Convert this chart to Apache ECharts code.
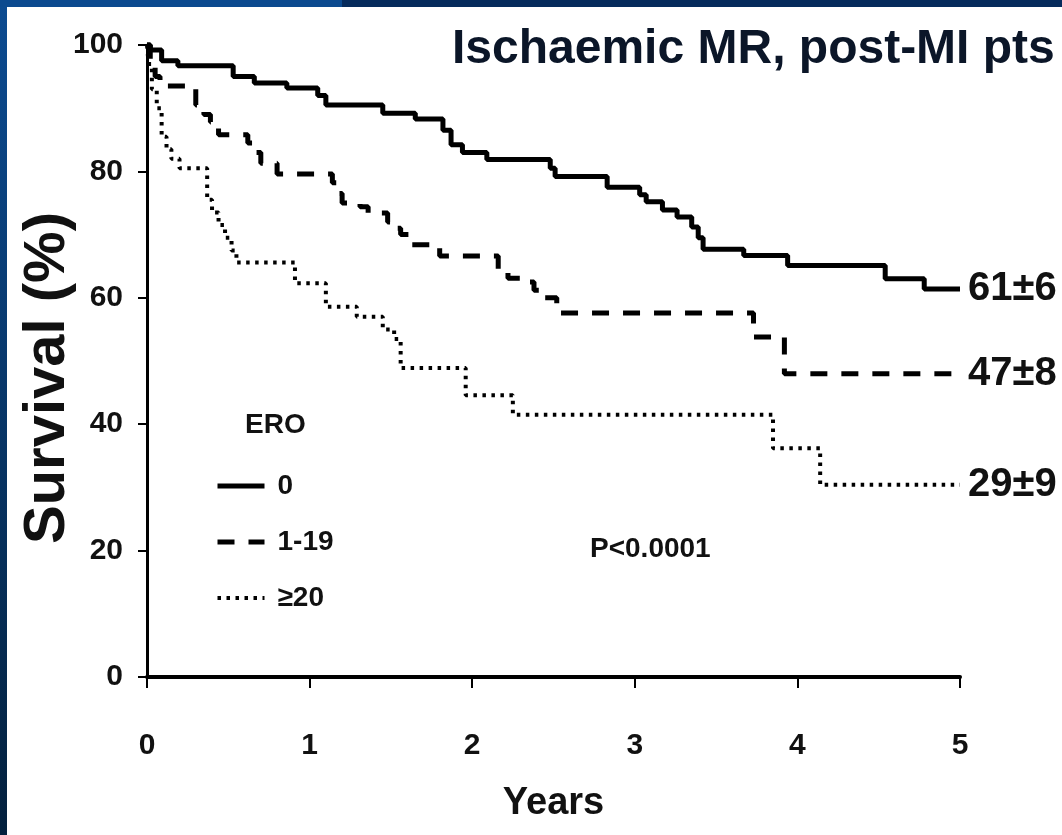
<!DOCTYPE html>
<html>
<head>
<meta charset="utf-8">
<title>Ischaemic MR, post-MI pts</title>
<script src="https://cdn.jsdelivr.net/npm/echarts@6/dist/echarts.min.js"></script>
<style>
  html, body { margin: 0; padding: 0; background: #fff; }
  #chart-container { width: 1062px; height: 835px; }
</style>
</head>
<body>
<div id="chart-container"></div>
<script>
var sans = "'Liberation Sans', Arial, sans-serif";

// ERO groups and the survival text at the end of each curve
var groupNames = ['0', '1-19', '≥20'];
var endLabels = ['61±6', '47±8', '29±9'];

// Kaplan-Meier steps (years, survival %)
var yearsEro0 = [0, 0.02, 0.09, 0.19, 0.53, 0.66, 0.86, 1.05, 1.1, 1.45, 1.65, 1.82, 1.87, 1.94, 2.09, 2.48, 2.51, 2.83, 3.03, 3.07, 3.17, 3.26, 3.35, 3.39, 3.42, 3.67, 3.94, 4.54, 4.78, 5.0];
var survEro0  = [100, 99.2, 97.5, 96.7, 95.0, 94.0, 93.2, 92.0, 90.5, 89.2, 88.3, 86.5, 84.2, 83.0, 81.9, 80.5, 79.2, 77.5, 76.3, 75.2, 73.9, 72.8, 71.2, 69.5, 67.7, 66.7, 65.1, 63.0, 61.4, 61.4];

var yearsEro1 = [0, 0.02, 0.05, 0.08, 0.30, 0.35, 0.39, 0.44, 0.62, 0.66, 0.70, 0.80, 1.14, 1.17, 1.20, 1.31, 1.36, 1.48, 1.52, 1.56, 1.63, 1.80, 2.16, 2.22, 2.34, 2.38, 2.42, 2.52, 3.73, 3.92, 5.0];
var survEro1  = [100, 97, 95, 93.5, 90.5, 89, 87.8, 85.8, 84.5, 83, 81.3, 79.6, 78.2, 76.5, 75.0, 74.4, 73.4, 72, 71, 70, 68.4, 66.6, 64.4, 63.1, 62.5, 61.2, 60.0, 57.6, 53.8, 48.0, 48.0];

var yearsEro20 = [0, 0.01, 0.03, 0.06, 0.09, 0.12, 0.15, 0.20, 0.37, 0.40, 0.44, 0.48, 0.52, 0.55, 0.91, 1.10, 1.29, 1.45, 1.52, 1.56, 1.96, 2.25, 3.85, 4.14, 5.0];
var survEro20  = [100, 97, 93, 90, 85.5, 83.5, 82, 80.5, 75.5, 73.5, 71.5, 69.5, 67.5, 65.6, 62.3, 58.6, 57, 55, 53.5, 48.9, 44.6, 41.5, 36.2, 30.4, 30.4];

// axis ticks
var yearTicks = [0, 1, 2, 3, 4, 5];
var survTicks = [0, 20, 40, 60, 80, 100];

function pairs(xs, ys) {
    return xs.map(function (x, i) { return [x, ys[i]]; });
}

var dom = document.getElementById('chart-container');
var myChart = echarts.init(dom, null, { renderer: 'canvas' });

var lineStyles = [
    { color: '#000', width: 5, type: 'solid' },
    { color: '#000', width: 5, type: [17, 14] },
    { color: '#000', width: 4, type: [3.5, 5.5] }
];
var curves = [pairs(yearsEro0, survEro0), pairs(yearsEro1, survEro1), pairs(yearsEro20, survEro20)];

var seriesList = groupNames.map(function (name, i) {
    return {
        name: name,
        type: 'line',
        step: 'end',
        symbol: 'none',
        clip: false,
        lineStyle: lineStyles[i],
        itemStyle: { color: '#000' },
        endLabel: {
            show: true,
            distance: 8,
            formatter: function () { return endLabels[i]; },
            fontFamily: sans,
            fontWeight: 'bold',
            fontSize: 40,
            color: '#111'
        },
        data: curves[i]
    };
});

option = {
    backgroundColor: '#fff',
    animation: false,
    title: [
        {
            text: 'Ischaemic MR, post-MI pts',
            left: 452,
            top: 26,
            padding: 0,
            textStyle: { fontFamily: sans, fontWeight: 'bold', fontSize: 48, color: '#0b1628' }
        },
        {
            text: 'ERO',
            left: 245,
            top: 411,
            padding: 0,
            textStyle: { fontFamily: sans, fontWeight: 'bold', fontSize: 28, color: '#111' }
        },
        {
            text: 'P<0.0001',
            left: 590,
            top: 535,
            padding: 0,
            textStyle: { fontFamily: sans, fontWeight: 'bold', fontSize: 28, color: '#111' }
        }
    ],
    legend: {
        data: groupNames.map(function (name, i) {
            return { name: name, lineStyle: lineStyles[i] };
        }),
        orient: 'vertical',
        left: 215,
        top: 469,
        padding: 0,
        itemWidth: 47,
        itemHeight: 14,
        itemGap: 22,
        itemStyle: { opacity: 0 },
        textStyle: { fontFamily: sans, fontWeight: 'bold', fontSize: 28, lineHeight: 34, color: '#111', padding: [0, 0, 0, 8] }
    },
    grid: {
        left: 147,
        right: 102,
        top: 45,
        bottom: 158,
        outerBoundsMode: 'none'
    },
    xAxis: {
        type: 'value',
        min: yearTicks[0],
        max: yearTicks[yearTicks.length - 1],
        interval: 1,
        name: 'Years',
        nameLocation: 'middle',
        nameGap: 108,
        nameMoveOverlap: false,
        nameTextStyle: { fontFamily: sans, fontWeight: 'bold', fontSize: 38, color: '#111' },
        axisLine: { show: true, lineStyle: { color: '#000', width: 4 } },
        axisTick: { show: true, length: 11, lineStyle: { color: '#000', width: 2 } },
        axisLabel: { margin: 54, fontFamily: sans, fontWeight: 'bold', fontSize: 30, color: '#111' },
        splitLine: { show: false }
    },
    yAxis: {
        type: 'value',
        min: survTicks[0],
        max: survTicks[survTicks.length - 1],
        interval: 20,
        name: 'Survival (%)',
        nameLocation: 'middle',
        nameGap: 70,
        nameMoveOverlap: false,
        nameTextStyle: { fontFamily: sans, fontWeight: 'bold', fontSize: 58, color: '#111', padding: [0, 34, 0, 0] },
        axisLine: { show: true, lineStyle: { color: '#000', width: 3 } },
        axisTick: { show: true, length: 9, lineStyle: { color: '#000', width: 2 } },
        axisLabel: { margin: 24, fontFamily: sans, fontWeight: 'bold', fontSize: 30, color: '#111' },
        splitLine: { show: false }
    },
    graphic: [
        {
            type: 'rect', left: 0, top: 0, silent: true, z: 100,
            shape: { width: 7, height: 835 },
            style: { fill: new echarts.graphic.LinearGradient(0, 0, 0, 1, [
                { offset: 0, color: '#0c4b91' }, { offset: 1, color: '#03203d' }
            ]) }
        },
        {
            type: 'rect', left: 0, top: 0, silent: true, z: 100,
            shape: { width: 342, height: 7 },
            style: { fill: '#0b4a8f' }
        },
        {
            type: 'rect', left: 342, top: 0, silent: true, z: 100,
            shape: { width: 720, height: 7 },
            style: { fill: '#062b5c' }
        }
    ],
    series: seriesList
};
myChart.setOption(option);
</script>
</body>
</html>
